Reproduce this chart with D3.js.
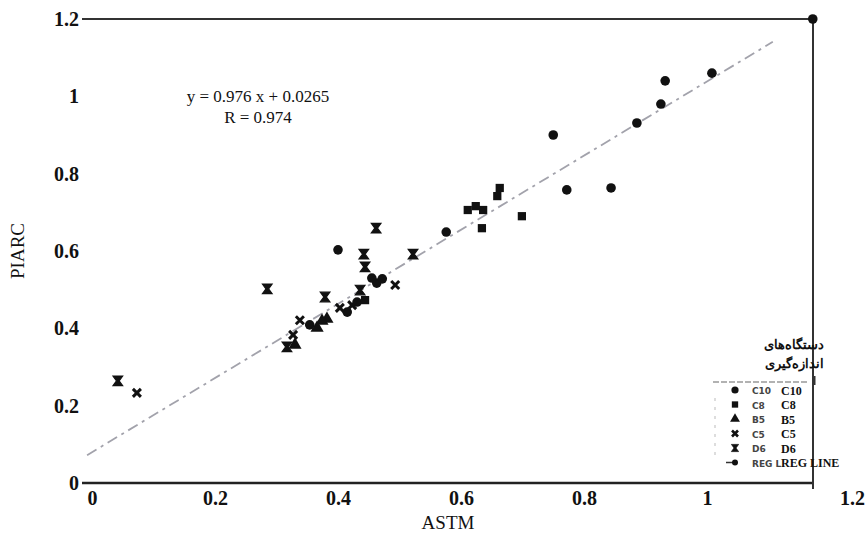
<!DOCTYPE html>
<html><head><meta charset="utf-8">
<script src="https://cdn.jsdelivr.net/npm/d3@7"></script>
<style>body{margin:0;background:#fff}svg{display:block}
.serif{font-family:"Liberation Serif","Times New Roman",serif}
.sans{font-family:"DejaVu Sans",sans-serif}
</style>
</head><body>
<svg id="c" width="866" height="538"></svg>
<script>
const xTicks = [0, 0.2, 0.4, 0.6, 0.8, 1, 1.2];
const yTicks = [0, 0.2, 0.4, 0.6, 0.8, 1, 1.2];
const c10 = [[1.008,1.060],[0.932,1.040],[0.925,0.980],[0.886,0.931],[0.750,0.900],[0.772,0.758],[0.844,0.763],[0.576,0.649],[0.400,0.603],[0.463,0.517],[0.455,0.530],[0.472,0.528],[0.431,0.468],[0.415,0.442],[0.354,0.409],[1.172,1.200]];
const c8 = [[0.611,0.706],[0.624,0.716],[0.636,0.706],[0.699,0.690],[0.634,0.659],[0.663,0.763],[0.659,0.742],[0.444,0.473]];
const b5 = [[0.382,0.424],[0.374,0.419],[0.366,0.401],[0.330,0.357]];
const c5 = [[0.493,0.512],[0.403,0.453],[0.338,0.421],[0.327,0.383],[0.073,0.233],[0.423,0.460]];
const d6 = [[0.442,0.592],[0.444,0.559],[0.462,0.659],[0.285,0.502],[0.379,0.481],[0.522,0.592],[0.317,0.352],[0.042,0.264],[0.436,0.499]];
const regLine = [[-0.008,0.072],[1.107,1.141]];
const legendNames = ["C10","C8","B5","C5","D6","REG LINE"];
const legendScan = ["C10","C8","B5","C5","D6","REG L"];
const equation = ["y = 0.976 x + 0.0265", "R = 0.974"];
const legendTitle = ["دستگاه‌های", "اندازه‌گیری"];

const svg = d3.select("#c");
const x = d3.scaleLinear().domain([0, 1]).range([92, 707]);
const y = d3.scaleLinear().domain([0, 1.2]).range([483, 19]);
const ink = "#111";

// frame
const fx0 = 82, fx1 = 813;
svg.append("line").attr("x1", fx0).attr("x2", fx1).attr("y1", y(1.2)).attr("y2", y(1.2)).attr("stroke", "#333").attr("stroke-width", 2);
svg.append("line").attr("x1", fx0).attr("x2", fx1).attr("y1", y(0)).attr("y2", y(0)).attr("stroke", "#222").attr("stroke-width", 2.5);
svg.append("line").attr("x1", fx1).attr("x2", fx1).attr("y1", y(1.2)).attr("y2", y(0) + 6).attr("stroke", "#333").attr("stroke-width", 2);

// axes
const ga = svg.append("g").attr("transform", `translate(${fx0},0)`)
  .call(d3.axisLeft(y).tickValues(yTicks).tickSize(0).tickPadding(3).tickFormat(d3.format("")));
ga.select(".domain").remove();
ga.attr("font-family", null).attr("font-size", null);
ga.selectAll("text").attr("class", "serif").style("font-weight", "bold").style("font-size", "20px").attr("fill", ink);

const gx = svg.append("g").attr("transform", `translate(0,${y(0) + 6})`)
  .call(d3.axisBottom(x).tickValues(xTicks).tickSize(0).tickPadding(2).tickFormat(d3.format("")));
gx.select(".domain").remove();
gx.attr("font-family", null).attr("font-size", null);
gx.selectAll("text").attr("class", "serif").style("font-weight", "bold").style("font-size", "20px").attr("fill", ink)
  .attr("dx", d => d === 1.2 ? 22 : 0);

svg.append("text").attr("class", "serif").attr("x", 448).attr("y", 529).attr("text-anchor", "middle")
  .style("font-size", "19px").attr("fill", ink).text("ASTM");
svg.append("text").attr("class", "serif").attr("transform", "translate(24,251) rotate(-90)").attr("text-anchor", "middle")
  .style("font-size", "19px").attr("fill", ink).text("PIARC");

// equation
svg.selectAll("text.eq").data(equation).join("text").attr("class", "eq serif")
  .attr("x", 258).attr("y", (d, i) => 102 + i * 21).attr("text-anchor", "middle")
  .style("font-size", "17px").attr("fill", ink).text(d => d);

// regression line
const line = d3.line().x(d => x(d[0])).y(d => y(d[1]));
svg.append("path").datum(regLine).attr("d", line).attr("fill", "none")
  .attr("stroke", "#70707e").attr("stroke-width", 1.8).attr("stroke-opacity", 0.65)
  .attr("stroke-dasharray", "11 5 3 5");

// marker shapes
const sq = d3.symbol().type(d3.symbolSquare).size(68)();
const tri = d3.symbol().type(d3.symbolTriangle).size(75)();
const hour = "M-4.8,-4.8 L4.8,-4.8 L1.3,0 L4.8,4.8 L-4.8,4.8 L-1.3,0 Z";
const cross = "M-4,-4 L4,4 M4,-4 L-4,4";

function drawPath(data, d, opts) {
  const s = svg.append("g");
  s.selectAll("path").data(data).join("path")
    .attr("transform", p => `translate(${x(p[0])},${y(p[1])})`)
    .attr("d", d)
    .attr("fill", opts.fill).attr("stroke", opts.stroke || "none").attr("stroke-width", opts.sw || 0);
}
svg.append("g").selectAll("circle").data(c10).join("circle")
  .attr("cx", d => x(d[0])).attr("cy", d => y(d[1])).attr("r", 4.8).attr("fill", ink);
drawPath(c8, sq, {fill: ink});
drawPath(b5, tri, {fill: ink});
drawPath(c5, cross, {fill: "none", stroke: ink, sw: 3});
drawPath(d6, hour, {fill: ink, stroke: ink, sw: 1.2});

// legend
const lg = svg.append("g");
lg.selectAll("text.lt").data(legendTitle).join("text").attr("class", "lt serif")
  .attr("x", 794).attr("y", (d, i) => 349 + i * 19).attr("text-anchor", "middle").attr("direction", "rtl")
  .style("font-weight", "bold").style("font-size", "13px").attr("fill", ink).text(d => d);
lg.append("line").attr("x1", 713).attr("x2", 808).attr("y1", 382).attr("y2", 382)
  .attr("stroke", "#999").attr("stroke-width", 1.5).attr("stroke-dasharray", "6 2");
lg.append("line").attr("x1", 715).attr("x2", 715).attr("y1", 398).attr("y2", 460)
  .attr("stroke", "#bbb").attr("stroke-width", 1).attr("stroke-dasharray", "3 6");
lg.append("rect").attr("x", 813).attr("y", 376).attr("width", 2.5).attr("height", 9).attr("fill", "#333");
const rowY = i => 390 + i * 14.5;
const mx = 735;
lg.append("circle").attr("cx", mx).attr("cy", rowY(0)).attr("r", 3.6).attr("fill", ink);
lg.append("path").attr("transform", `translate(${mx},${rowY(1)})`).attr("d", d3.symbol().type(d3.symbolSquare).size(40)()).attr("fill", ink);
lg.append("path").attr("transform", `translate(${mx},${rowY(2)})`).attr("d", d3.symbol().type(d3.symbolTriangle).size(42)()).attr("fill", ink);
lg.append("path").attr("transform", `translate(${mx},${rowY(3)}) scale(0.75)`).attr("d", cross).attr("stroke", ink).attr("stroke-width", 3.5).attr("fill", "none");
lg.append("path").attr("transform", `translate(${mx},${rowY(4)}) scale(0.75)`).attr("d", hour).attr("fill", ink).attr("stroke", ink);
lg.append("line").attr("x1", mx - 9).attr("x2", mx + 2).attr("y1", rowY(5)).attr("y2", rowY(5)).attr("stroke", "#333").attr("stroke-width", 1.5);
lg.append("circle").attr("cx", mx).attr("cy", rowY(5)).attr("r", 3).attr("fill", ink);
lg.selectAll("text.ls").data(legendScan).join("text").attr("class", "ls sans")
  .attr("x", 752).attr("y", (d, i) => rowY(i) + 4)
  .style("font-weight", "bold").style("font-size", "9px")
  .attr("fill", "#444").text(d => d);
lg.selectAll("text.ln").data(legendNames).join("text").attr("class", "ln serif")
  .attr("x", 781).attr("y", (d, i) => rowY(i) + 4.5)
  .style("font-weight", "bold").style("font-size", "12px").attr("fill", ink).text(d => d);
</script>
</body></html>
